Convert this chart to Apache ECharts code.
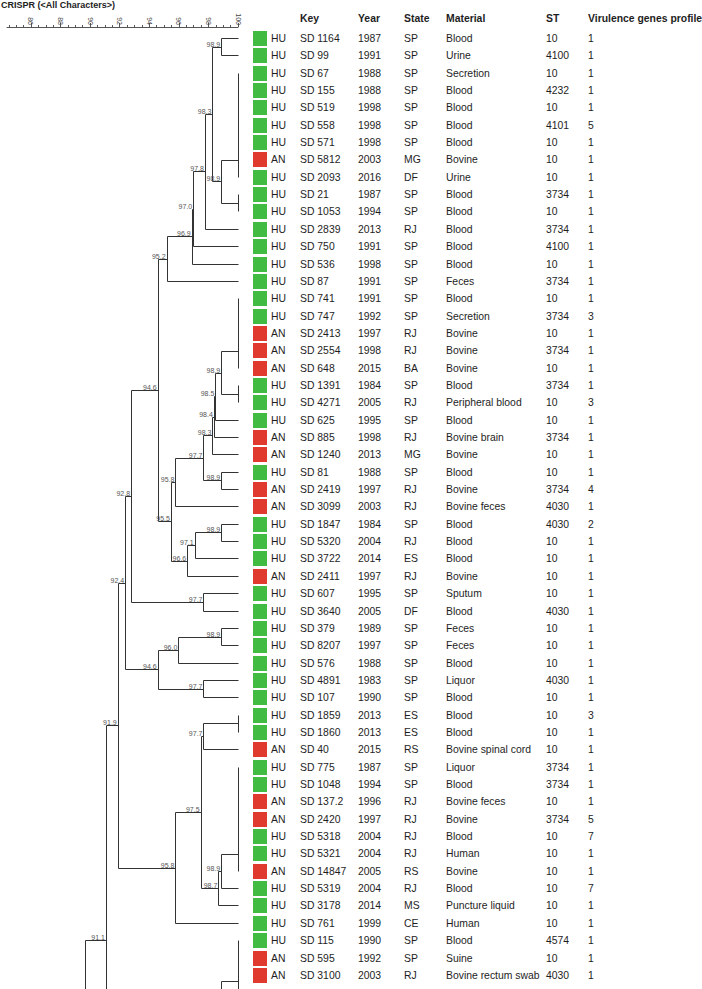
<!DOCTYPE html>
<html>
<head>
<meta charset="utf-8">
<script src="https://cdn.jsdelivr.net/npm/echarts@6/dist/echarts.min.js"></script>
<style>
html,body{margin:0;padding:0;background:#fff;}
#chart{width:702px;height:989px;overflow:hidden;opacity:0.999;}
</style>
</head>
<body>
<div id="chart"></div>
<script>
// ---------- data ----------
const titleText = 'CRISPR (<All Characters>)';
const headers = ['Key', 'Year', 'State', 'Material', 'ST', 'Virulence genes profile'];
const scaleTicks = [86, 88, 90, 92, 94, 96, 98, 100];

const source = ['HU','HU','HU','HU','HU','HU','HU','AN','HU','HU','HU','HU','HU','HU','HU','HU','HU','AN','AN','AN',
  'HU','HU','HU','AN','AN','HU','AN','AN','HU','HU','HU','AN','HU','HU','HU','HU','HU','HU','HU','HU',
  'HU','AN','HU','HU','AN','AN','HU','HU','AN','HU','HU','HU','HU','AN','AN'];
const keys = ['SD 1164','SD 99','SD 67','SD 155','SD 519','SD 558','SD 571','SD 5812','SD 2093','SD 21',
  'SD 1053','SD 2839','SD 750','SD 536','SD 87','SD 741','SD 747','SD 2413','SD 2554','SD 648',
  'SD 1391','SD 4271','SD 625','SD 885','SD 1240','SD 81','SD 2419','SD 3099','SD 1847','SD 5320',
  'SD 3722','SD 2411','SD 607','SD 3640','SD 379','SD 8207','SD 576','SD 4891','SD 107','SD 1859',
  'SD 1860','SD 40','SD 775','SD 1048','SD 137.2','SD 2420','SD 5318','SD 5321','SD 14847','SD 5319',
  'SD 3178','SD 761','SD 115','SD 595','SD 3100'];
const years = [1987,1991,1988,1988,1998,1998,1998,2003,2016,1987,1994,2013,1991,1998,1991,1991,1992,1997,1998,2015,
  1984,2005,1995,1998,2013,1988,1997,2003,1984,2004,2014,1997,1995,2005,1989,1997,1988,1983,1990,2013,
  2013,2015,1987,1994,1996,1997,2004,2004,2005,2004,2014,1999,1990,1992,2003];
const states = ['SP','SP','SP','SP','SP','SP','SP','MG','DF','SP','SP','RJ','SP','SP','SP','SP','SP','RJ','RJ','BA',
  'SP','RJ','SP','RJ','MG','SP','RJ','RJ','SP','RJ','ES','RJ','SP','DF','SP','SP','SP','SP','SP','ES',
  'ES','RS','SP','SP','RJ','RJ','RJ','RJ','RS','RJ','MS','CE','SP','SP','RJ'];
const materials = ['Blood','Urine','Secretion','Blood','Blood','Blood','Blood','Bovine','Urine','Blood',
  'Blood','Blood','Blood','Blood','Feces','Blood','Secretion','Bovine','Bovine','Bovine',
  'Blood','Peripheral blood','Blood','Bovine brain','Bovine','Blood','Bovine','Bovine feces','Blood','Blood',
  'Blood','Bovine','Sputum','Blood','Feces','Feces','Blood','Liquor','Blood','Blood',
  'Blood','Bovine spinal cord','Liquor','Blood','Bovine feces','Bovine','Blood','Human','Bovine','Blood',
  'Puncture liquid','Human','Blood','Suine','Bovine rectum swab'];
const stTypes = [10,4100,10,4232,10,4101,10,10,10,3734,10,3734,4100,10,3734,10,3734,10,3734,10,
  3734,10,10,3734,10,10,3734,4030,4030,10,10,10,10,4030,10,10,10,4030,10,10,
  10,10,3734,3734,10,3734,10,10,10,10,10,10,4574,10,4030];
const virulence = [1,1,1,1,1,5,1,1,1,1,1,1,1,1,1,1,3,1,1,1,
  1,3,1,1,1,1,4,1,2,1,1,1,1,1,1,1,1,1,1,3,
  1,1,1,1,1,5,7,1,1,7,1,1,1,1,1];

// Dendrogram: node = [similarity, childA, childB]; leaf = row index;
// {below: r} = branch continuing below the visible crop (estimated row position)
const dendrogram = [
  [89.7,
    [91.1,
      [91.9,
        [92.4,
          [92.8,
            [94.6,
              [95.2,
                [96.9,
                  [97.0,
                    [97.8,
                      [98.3,
                        [98.9, 0, 1],
                        [98.9,
                          [100, [100, [100, [100, [100, [100, 2, 3], 4], 5], 6], 7], 8],
                          [100, 9, 10]]],
                      11],
                    12],
                  13],
                14],
              [95.5,
                [95.8,
                  [97.7,
                    [98.3,
                      [98.4,
                        [98.5,
                          [98.9,
                            [100, [100, [100, [100, 15, 16], 17], 18], 19],
                            [100, 20, 21]],
                          22],
                        23],
                      24],
                    [98.9, 25, 26]],
                  27],
                [96.6, [97.1, [98.9, 28, 29], 30], 31]]],
            [97.7, 32, 33]],
          [94.6, [96.0, [98.9, 34, 35], 36], [97.7, 37, 38]]],
        [95.8,
          [97.5,
            [97.7, [100, 39, 40], 41],
            [98.7,
              [98.9, [100, [100, [100, [100, [100, [100, 42, 43], 44], 45], 46], 47], 48], 49],
              50]],
          51]],
      {below: 64.4}],
    {below: 70}],
  [98.9, [100, [100, [100, 52, 53], 54], {below: 55.5}], {below: 56}]
];

// ---------- layout ----------
const X_MIN = 84.377, X_MAX = 100;
const Y_MIN = -0.6628, Y_MAX = 54.784;
const polylines = [];
const nodeLabels = [];
function layoutNode(node) {
  if (typeof node === 'number') return {x: 100, y: node};
  if (node.below !== undefined) return {x: null, y: node.below};
  const sim = node[0];
  const A = layoutNode(node[1]);
  const B = layoutNode(node[2]);
  const ax = A.x === null ? sim : A.x;
  const bx = B.x === null ? sim : B.x;
  polylines.push([[ax, A.y], [sim, A.y], [sim, B.y], [bx, B.y]]);
  const y = (A.y + B.y) / 2;
  if (sim < 100 && y > Y_MIN && y < Y_MAX) nodeLabels.push([sim, y]);
  return {x: sim, y: y};
}
dendrogram.forEach(layoutNode);

// ---------- styles ----------
const FONT = '"Liberation Sans", Arial, sans-serif';
const TXT = '#1e1e1e';
const colX = {sq: 253, src: 271, key: 300, year: 358, state: 404, mat: 446, st: 546, vir: 588};
const headerX = [colX.key, colX.year, colX.state, colX.mat, colX.st, colX.vir];
const srcColor = {HU: '#42bb42', AN: '#e0392d'};

const minorTicks = [];
for (let v = 84.5; v <= 100.001; v += 0.5) minorTicks.push(+v.toFixed(1));

const chart = echarts.init(document.getElementById('chart'), null, {renderer: 'svg', width: 702, height: 989});

const snap = v => Math.round(v - 0.5) + 0.5;

const option = {
  animation: false,
  backgroundColor: '#fff',
  grid: [{left: 7, width: 231, top: 27, bottom: 0, containLabel: false}],
  xAxis: [
    {
      type: 'value', gridIndex: 0, position: 'top', min: X_MIN, max: X_MAX,
      axisLine: {show: true, onZero: false, lineStyle: {color: '#555', width: 1}},
      axisTick: {show: true, customValues: minorTicks, length: 2, lineStyle: {color: '#555', width: 1}},
      axisLabel: {show: false},
      splitLine: {show: false}
    },
    {
      type: 'value', gridIndex: 0, position: 'top', min: X_MIN, max: X_MAX,
      axisLine: {show: false, onZero: false},
      axisTick: {show: true, customValues: scaleTicks, length: 4, lineStyle: {color: '#555', width: 1}},
      axisLabel: {show: true, customValues: scaleTicks, rotate: 90, fontSize: 7, margin: 2,
        color: '#444', fontFamily: FONT},
      splitLine: {show: false}
    }
  ],
  yAxis: [{type: 'value', gridIndex: 0, inverse: true, min: Y_MIN, max: Y_MAX, show: false}],
  graphic: [
    {type: 'text', left: 1, top: 0, style: {text: titleText, font: 'bold 9px ' + FONT, fill: '#222'}}
  ].concat(headers.map((h, i) => ({
    type: 'text', x: headerX[i], y: 18,
    style: {text: h, font: 'bold 10.4px ' + FONT, fill: TXT, verticalAlign: 'middle', align: 'left'}
  }))),
  series: [
    {
      type: 'custom', name: 'tree', xAxisIndex: 0, yAxisIndex: 0, clip: false,
      data: polylines.map((p, i) => i),
      renderItem: function (params, api) {
        const pts = polylines[params.dataIndex].map(p => {
          const c = api.coord(p);
          return [snap(c[0]), snap(c[1])];
        });
        return {type: 'polyline', shape: {points: pts},
          style: {stroke: '#333', lineWidth: 1, fill: null}, silent: true};
      }
    },
    {
      type: 'custom', name: 'nodeLabels', xAxisIndex: 0, yAxisIndex: 0, clip: false,
      data: nodeLabels,
      renderItem: function (params, api) {
        const c = api.coord([api.value(0), api.value(1)]);
        return {type: 'text', x: c[0] - 1.5, y: c[1] + 0.5,
          style: {text: api.value(0).toFixed(1), font: '7px ' + FONT, fill: '#555',
            align: 'right', verticalAlign: 'bottom'}, silent: true};
      }
    },
    {
      type: 'custom', name: 'table', xAxisIndex: 0, yAxisIndex: 0, clip: false,
      data: keys.map((k, i) => [100, i]),
      renderItem: function (params, api) {
        const i = params.dataIndex;
        const y = api.coord([100, i])[1];
        const t = (x, s) => ({type: 'text', x: x, y: y,
          style: {text: String(s), font: '10.4px ' + FONT, fill: TXT, align: 'left', verticalAlign: 'middle'}});
        return {type: 'group', children: [
          {type: 'rect', shape: {x: colX.sq, y: Math.round(y - 7.5), width: 14, height: 15},
            style: {fill: srcColor[source[i]]}},
          t(colX.src, source[i]),
          t(colX.key, keys[i]),
          t(colX.year, years[i]),
          t(colX.state, states[i]),
          t(colX.mat, materials[i]),
          t(colX.st, stTypes[i]),
          t(colX.vir, virulence[i])
        ]};
      }
    }
  ]
};
chart.setOption(option);
</script>
</body>
</html>
